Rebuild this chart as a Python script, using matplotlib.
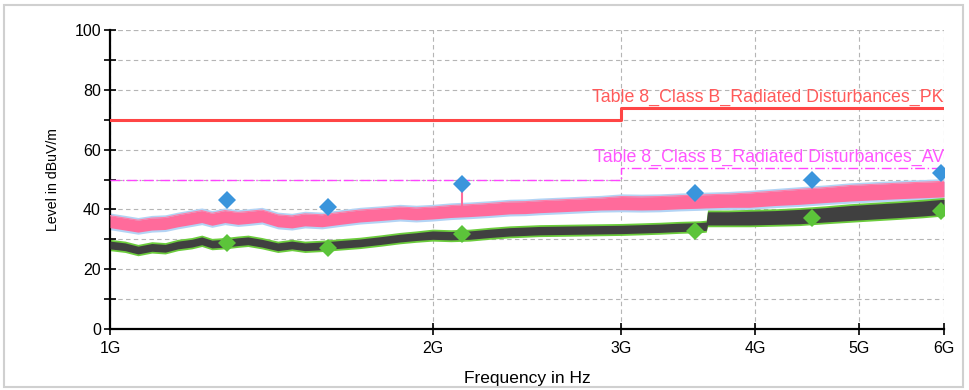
import matplotlib.pyplot as plt
from matplotlib.patches import Rectangle
from matplotlib.ticker import FixedLocator, NullFormatter

freq = [1.0, 1.033, 1.062, 1.094, 1.126, 1.157, 1.192, 1.218, 1.245, 1.280,
        1.316, 1.345, 1.386, 1.434, 1.478, 1.520, 1.577, 1.640, 1.711, 1.790,
        1.864, 1.930, 2.0, 2.080, 2.166, 2.260, 2.360, 2.440, 2.516, 2.630,
        2.743, 2.870, 3.0, 3.130, 3.258, 3.400, 3.551, 3.600, 3.610, 3.770,
        3.952, 4.170, 4.399, 4.650, 4.902, 5.170, 5.459, 5.730, 6.0]

# peak trace (pink over light blue): centre of the noise band
pk_mid = [35.9, 35.1, 34.4, 35.1, 35.3, 36.2, 37.0, 37.6, 36.7, 37.6,
          37.0, 37.3, 37.8, 36.2, 35.8, 36.5, 36.2, 37.0, 37.8, 38.3,
          38.8, 38.5, 38.8, 39.3, 39.6, 40.0, 40.5, 40.6, 40.9, 41.2,
          41.5, 41.8, 42.1, 42.0, 42.1, 42.4, 42.6, 42.7, 42.7, 42.9,
          43.1, 43.7, 44.2, 44.8, 45.4, 45.8, 46.2, 46.5, 46.8]
pk_half = [2.0] * 32 + [2.2] * 8 + [2.4, 2.4, 2.5, 2.5, 2.6, 2.6, 2.6, 2.6, 2.6]

# average trace (dark grey over green)
av_mid = [28.1, 27.5, 26.4, 27.3, 27.0, 28.1, 28.7, 29.5, 28.4, 28.7,
          29.2, 29.5, 28.7, 27.5, 28.1, 27.5, 27.8, 28.3, 28.8, 29.6,
          30.4, 30.9, 31.4, 31.2, 31.4, 32.0, 32.5, 32.7, 32.9, 33.0,
          33.1, 33.2, 33.3, 33.5, 33.7, 34.0, 34.2, 34.4, 37.0, 37.0,
          37.1, 37.3, 37.6, 38.2, 38.8, 39.3, 39.8, 40.3, 40.9]
av_half = [1.3] * 22 + [1.4] * 16 + [2.2, 2.2, 2.3, 2.3, 2.4, 2.4, 2.5, 2.5, 2.5, 2.5, 2.5]

# final measurement points
pk_freq = [1.286, 1.597, 2.130, 3.513, 4.518, 5.96]
pk_level = [43.1, 40.8, 48.5, 45.5, 49.8, 52.2]
av_freq = [1.286, 1.597, 2.130, 3.513, 4.518, 5.96]
av_level = [28.8, 27.1, 31.8, 32.8, 37.1, 39.5]

# limit lines
lim_freq = [1.0, 3.0, 3.0, 6.0]
lim_pk = [70, 70, 74, 74]
lim_av = [50, 50, 54, 54]

plt.rcParams['font.family'] = ['Liberation Sans', 'DejaVu Sans']

fig = plt.figure(figsize=(9.69, 3.9), dpi=100)
fig.patches.append(Rectangle((0.004, 0.008), 0.99, 0.98, transform=fig.transFigure,
                             fill=False, edgecolor='#d0d0d0', linewidth=1.5))
ax = fig.add_axes([0.1135, 0.1564, 0.8607, 0.7666])

ax.set_xscale('log')
ax.set_xlim(1.0, 6.0)
ax.set_ylim(0, 100)

pk_lo = [m - h for m, h in zip(pk_mid, pk_half)]
pk_hi = [m + h for m, h in zip(pk_mid, pk_half)]
av_lo = [m - h for m, h in zip(av_mid, av_half)]
av_hi = [m + h for m, h in zip(av_mid, av_half)]

# light blue / green under-traces peek out a little
ax.fill_between(freq, [v - 0.7 for v in pk_lo], [v + 0.9 for v in pk_hi],
                color='#b3d4f5', linewidth=0, zorder=2)
ax.fill_between(freq, pk_lo, pk_hi, color='#ff6b9b', linewidth=0, zorder=3)
ax.plot(freq, pk_hi, color='#ff7fa8', linewidth=0.8, zorder=3)
ax.plot([2.130, 2.130], [pk_hi[24], 47.0], color='#ff6b9b', linewidth=1.5, zorder=3)

ax.fill_between(freq, [v - 0.6 for v in av_lo], [v + 0.6 for v in av_hi],
                color='#6ccc3c', linewidth=0, zorder=2)
ax.fill_between(freq, av_lo, av_hi, color='#404040', linewidth=0, zorder=3)

ax.plot(lim_freq, lim_pk, color='#ff4545', linewidth=2.2, zorder=4)
ax.plot(lim_freq, lim_av, color='#ff44ff', linewidth=1.0,
        linestyle=(0, (7, 2, 1, 2)), zorder=4)

ax.plot(pk_freq, pk_level, 'D', color='#3a95dc', markersize=9,
        markeredgewidth=0, zorder=5)
ax.plot(av_freq, av_level, 'D', color='#5cc43a', markersize=9,
        markeredgewidth=0, zorder=5)

ax.text(6.0, 74.6, 'Table 8_Class B_Radiated Disturbances_PK', color='#ff5a5a',
        fontsize=12.8, ha='right', va='bottom', zorder=6)
ax.text(6.0, 54.6, 'Table 8_Class B_Radiated Disturbances_AV', color='#ff55ff',
        fontsize=12.8, ha='right', va='bottom', zorder=6)

# axes styling
ax.set_xticks([1, 2, 3, 4, 5, 6])
ax.set_xticklabels(['1G', '2G', '3G', '4G', '5G', '6G'])
ax.xaxis.set_minor_locator(FixedLocator([]))
ax.xaxis.set_minor_formatter(NullFormatter())
ax.set_yticks([0, 20, 40, 60, 80, 100])
ax.yaxis.set_minor_locator(FixedLocator([10, 30, 50, 70, 90]))
ax.tick_params(axis='both', which='both', direction='inout', length=9,
               width=1.2, labelsize=11.5, colors='black')
ax.tick_params(axis='x', pad=4)
ax.tick_params(axis='y', pad=2)

for s in ['top', 'right']:
    ax.spines[s].set_visible(False)
for s in ['left', 'bottom']:
    ax.spines[s].set_linewidth(1.6)

ax.grid(True, which='both', axis='both', color='#b5b5b5', linestyle=(0, (4, 3)),
        linewidth=0.8)
ax.set_axisbelow(True)
ax.axhline(100, color='#b5b5b5', linestyle=(0, (4, 3)), linewidth=0.8, zorder=0)

ax.set_xlabel('Frequency in Hz', fontsize=12.5, labelpad=11)
ax.set_ylabel('Level in dBuV/m', fontsize=10.2, labelpad=10)

fig.savefig('out.png', dpi=100)
